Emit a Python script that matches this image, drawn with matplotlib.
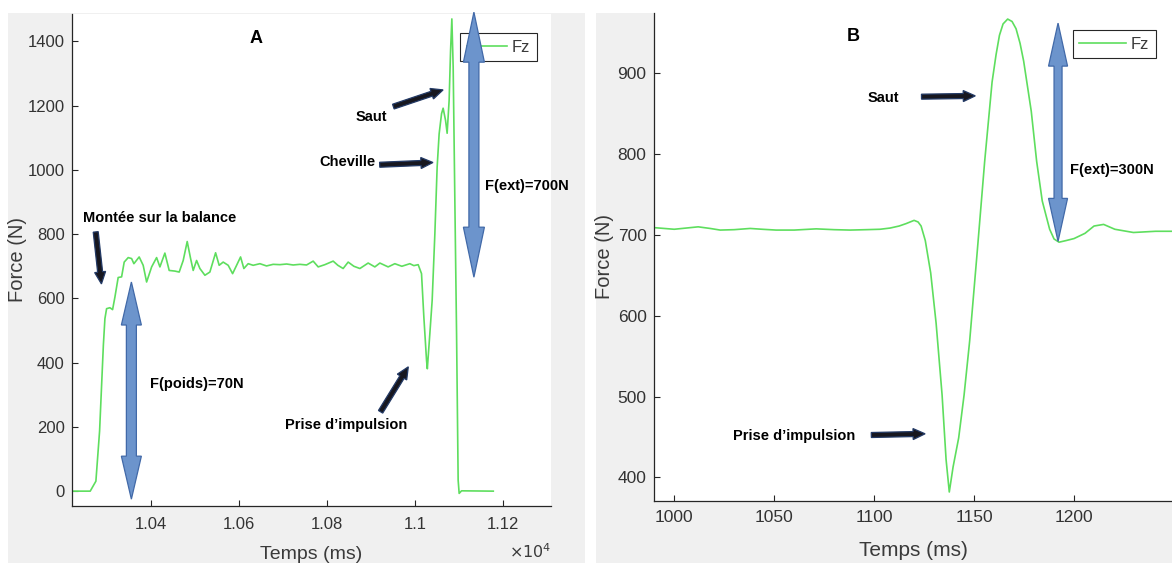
import matplotlib
matplotlib.use("Agg")
import matplotlib.pyplot as plt
from matplotlib.patches import Rectangle, Polygon
from matplotlib.transforms import IdentityTransform
import numpy as np

# panel A : whole trial, time in ms, vertical force in N
time_a = [10220, 10261.5, 10274.4, 10282.8, 10291.4, 10294.9, 10298.7, 10306.2, 10312.3, 10317.6,
          10325, 10332.8, 10338.7, 10347.8, 10355.5, 10360.7, 10372.7, 10381.8, 10389.6, 10401,
          10412.3, 10419.8, 10431.1, 10440.9, 10453.8, 10463.6, 10472.7, 10481.8, 10489.5, 10495.4,
          10503.1, 10510.6, 10522, 10533.3, 10546.3, 10554.4, 10563.5, 10574.9, 10584.9, 10594,
          10603, 10610.5, 10620.3, 10631.6, 10646.9, 10662, 10677, 10692.3, 10707.5, 10722.5,
          10737.7, 10752.9, 10767.9, 10779.3, 10794.5, 10813.3, 10824, 10836, 10847.4, 10860.3,
          10874, 10892.8, 10908, 10919.4, 10938.2, 10953.4, 10969.3, 10987.5, 10996.6, 11006.4,
          11014, 11019.3, 11025.4, 11027.2, 11032.9, 11038.2, 11044.3, 11049.5, 11054, 11059.5,
          11063.1, 11068.6, 11072.2, 11076.7, 11080, 11082.9, 11085.9, 11089.7, 11093.6, 11097.2,
          11099.5, 11104.9, 11177]
force_a = [0, 0, 31, 187, 455, 537, 568, 571, 565, 604,
           665, 667, 713, 727, 724, 708, 729, 703, 651, 698,
           727, 698, 741, 687, 685, 682, 718, 777, 724, 687,
           718, 693, 672, 682, 742, 703, 713, 703, 677, 703,
           729, 693, 708, 703, 708, 701, 706, 705, 707, 704,
           706, 704, 716, 698, 705, 716, 703, 693, 713, 700,
           693, 710, 698, 710, 698, 708, 700, 708, 702, 705,
           677, 542, 407, 381, 490, 594, 801, 1009, 1112, 1175,
           1192, 1154, 1114, 1216, 1372, 1470, 1320, 905, 490, 34,
           -7, 1, 0]

# panel B : zoom on the jump
time_b = [990, 1000, 1006, 1012, 1018, 1023, 1030, 1038, 1044, 1051,
          1060, 1071, 1080, 1088, 1096, 1103, 1108, 1112.5, 1116, 1120,
          1122, 1123.5, 1125.6, 1128.3, 1131, 1134, 1136, 1137.6, 1139.5, 1142.3,
          1145, 1147.8, 1151.6, 1155.3, 1159, 1161, 1162.7, 1164.5, 1166.8, 1169,
          1171, 1173, 1174.8, 1178.6, 1181.3, 1184.1, 1187.8, 1190, 1192.5, 1196,
          1200, 1205.5, 1210, 1214.8, 1220.4, 1229.7, 1240.8, 1252]
force_b = [709, 707, 708.5, 710, 708, 706, 706.5, 708, 707, 706,
           706, 707.5, 706.5, 706, 706.5, 707, 708.5, 711, 714, 718,
           716, 711, 693, 653, 591, 502, 422, 382, 413, 449,
           502, 569, 680, 791, 889, 923, 947, 961, 967, 964,
           955, 937, 915, 853, 791, 742, 707, 695, 691, 693,
           695.5, 702, 711, 713, 707, 703, 704.5, 704.5]

xticks_a = [10400, 10600, 10800, 11000, 11200]
xticklabels_a = ["1.04", "1.06", "1.08", "1.1", "1.12"]
yticks_a = [0, 200, 400, 600, 800, 1000, 1200, 1400]
xticks_b = [1000, 1050, 1100, 1150, 1200]
yticks_b = [400, 500, 600, 700, 800, 900]

W, H = 1172, 563
green = "#5ede5e"
tick_col = "#333333"
narrow = ["Liberation Sans Narrow", "Liberation Sans", "DejaVu Sans"]
arial = ["Liberation Sans", "DejaVu Sans"]

fig = plt.figure(figsize=(W / 100, H / 100), dpi=100)
fig.patch.set_facecolor("white")

# matlab grey figure backgrounds
fig.patches.append(Rectangle((8 / W, 0), (585 - 8) / W, 1 - 12.6 / H, transform=fig.transFigure,
                             fc="#f0f0f0", ec="none", zorder=-10))
fig.patches.append(Rectangle((596 / W, 0), (W - 596) / W, 1 - 12.6 / H, transform=fig.transFigure,
                             fc="#f0f0f0", ec="none", zorder=-10))

ax_a = fig.add_axes([71.5 / W, 1 - 505.6 / H, (551.4 - 71.5) / W, (505.6 - 14.4) / H])
ax_b = fig.add_axes([654.2 / W, 1 - 500.9 / H, (W - 654.2) / W, (500.9 - 12.6) / H])


def style_axes(ax, xpad, ypad, size):
    for s in ["top", "right"]:
        ax.spines[s].set_visible(False)
    for s in ["left", "bottom"]:
        ax.spines[s].set_color("#262626")
        ax.spines[s].set_linewidth(0.9)
    ax.tick_params(direction="in", length=4, width=0.8, color="#262626", labelcolor=tick_col)
    ax.tick_params(axis="x", pad=xpad)
    ax.tick_params(axis="y", pad=ypad)
    for lab in ax.get_xticklabels() + ax.get_yticklabels():
        lab.set_family(narrow)
        lab.set_fontsize(size)


# panel A
ax_a.plot(time_a, force_a, color=green, lw=1.2, label="Fz")
ax_a.set_xlim(10219, 11309)
ax_a.set_ylim(-45, 1484)
ax_a.set_xticks(xticks_a)
ax_a.set_xticklabels(xticklabels_a)
ax_a.set_yticks(yticks_a)
style_axes(ax_a, 8, 5, 12)
ax_a.set_xlabel("Temps (ms)", family=narrow, fontsize=14, color="#3a3a3a")
ax_a.xaxis.set_label_coords(0.5, -0.083)
ax_a.set_ylabel("Force (N)", family=arial, fontsize=14.5, color="#3a3a3a")
ax_a.yaxis.set_label_coords(-0.093, 0.5)
fig.text(551 / W, 2 / H, r"$\times 10^4$", ha="right", va="bottom", fontsize=11.5, color="#3a3a3a")

# panel B
ax_b.plot(time_b, force_b, color=green, lw=1.2, label="Fz")
ax_b.set_xlim(990, 1249)
ax_b.set_ylim(371, 975)
ax_b.set_xticks(xticks_b)
ax_b.set_yticks(yticks_b)
style_axes(ax_b, 6.5, 5.5, 12.5)
ax_b.set_xlabel("Temps (ms)", family=narrow, fontsize=15, color="#3a3a3a")
ax_b.xaxis.set_label_coords(0.5, -0.083)
ax_b.set_ylabel("Force (N)", family=arial, fontsize=14.5, color="#3a3a3a")
ax_b.yaxis.set_label_coords(-0.078, 0.5)

# legends
for ax, corner, hl in [(ax_a, (537 / W, 1 - 33 / H), 2.4), (ax_b, (1156 / W, 1 - 30 / H), 2.8)]:
    leg = ax.legend(loc="upper right", bbox_to_anchor=corner, bbox_transform=fig.transFigure,
                    borderaxespad=0, fancybox=False, framealpha=1, handlelength=hl,
                    handletextpad=0.3, borderpad=0.4, prop={"family": narrow, "size": 12})
    leg.get_frame().set_edgecolor("#262626")
    leg.get_frame().set_linewidth(0.8)
    for t in leg.get_texts():
        t.set_color("#3a3a3a")


def block_arrow(ax, tail, tip, shaft, head_w, head_l, double=False, fc="#17171f", ec="#233a66"):
    # arrow drawn in pixels so the shape does not depend on the axis scale
    p0 = ax.transData.transform(tail)
    p1 = ax.transData.transform(tip)
    d = (p1 - p0) / np.hypot(*(p1 - p0))
    n = np.array([-d[1], d[0]])
    h = p1 - d * head_l
    if double:
        b = p0 + d * head_l
        pts = [b + n * shaft / 2, b + n * head_w / 2, p0, b - n * head_w / 2, b - n * shaft / 2,
               h - n * shaft / 2, h - n * head_w / 2, p1, h + n * head_w / 2, h + n * shaft / 2]
    else:
        pts = [p0 - n * shaft / 2, h - n * shaft / 2, h - n * head_w / 2, p1,
               h + n * head_w / 2, h + n * shaft / 2, p0 + n * shaft / 2]
    poly = Polygon(pts, closed=True, transform=IdentityTransform(), fc=fc, ec=ec, lw=0.9,
                   zorder=6, clip_on=False)
    fig.add_artist(poly)


blue_fc, blue_ec = "#6c94cc", "#4169a8"
txt = dict(family=arial, fontsize=10.5, fontweight="bold", color="black", zorder=7)

# annotations panel A
ax_a.text(10638, 1409, "A", ha="center", va="center", family=arial, fontsize=13, fontweight="bold")
ax_a.text(10244, 849, "Montée sur la balance", ha="left", va="center", **txt)
ax_a.text(10397, 333, "F(poids)=70N", ha="left", va="center", **txt)
ax_a.text(10703, 206, "Prise d\u2019impulsion", ha="left", va="center", **txt)
ax_a.text(10781, 1024, "Cheville", ha="left", va="center", **txt)
ax_a.text(10864, 1165, "Saut", ha="left", va="center", **txt)
ax_a.text(11159, 951, "F(ext)=700N", ha="left", va="center", **txt)
block_arrow(ax_a, (10274, 807), (10287, 645), 5, 11, 12)
block_arrow(ax_a, (10921, 247), (10984, 387), 5, 11, 12)
block_arrow(ax_a, (10919, 1016), (11040, 1023), 5, 11, 12)
block_arrow(ax_a, (10950, 1197), (11063, 1249), 5, 11, 12)
block_arrow(ax_a, (10355, 651), (10355, -25), 10, 20, 43, double=True, fc=blue_fc, ec=blue_ec)
block_arrow(ax_a, (11133, 1491), (11133, 666), 10, 21, 50, double=True, fc=blue_fc, ec=blue_ec)

# annotations panel B
ax_b.text(1089.7, 945, "B", ha="center", va="center", family=arial, fontsize=13, fontweight="bold")
ax_b.text(1096.7, 869, "Saut", ha="left", va="center", **txt)
ax_b.text(1029.4, 451, "Prise d\u2019impulsion", ha="left", va="center", **txt)
ax_b.text(1198, 780, "F(ext)=300N", ha="left", va="center", **txt)
block_arrow(ax_b, (1123.7, 871), (1150.6, 872), 5, 11, 12)
block_arrow(ax_b, (1098.6, 452.5), (1125.5, 454), 5, 11, 12)
block_arrow(ax_b, (1192, 962), (1192, 692), 8, 19, 43, double=True, fc=blue_fc, ec=blue_ec)

fig.savefig("out.png", dpi=100, facecolor="white")
